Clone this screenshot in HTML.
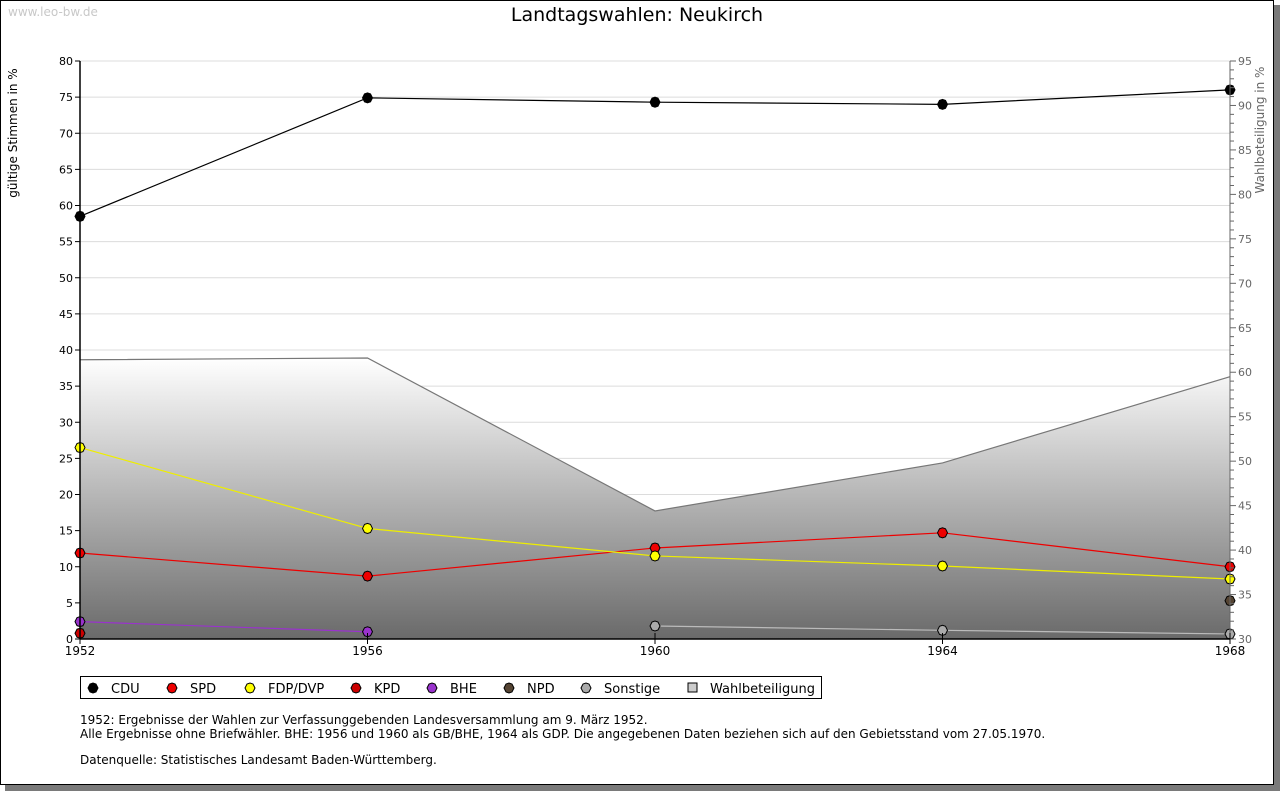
<!DOCTYPE html>
<html><head><meta charset="utf-8"><style>
html,body{margin:0;padding:0;background:#fff;}
svg text{font-family:"DejaVu Sans","Liberation Sans",sans-serif;}
</style></head><body>
<svg id="chart" width="1280" height="791" viewBox="0 0 1280 791" xmlns="http://www.w3.org/2000/svg">
<defs>
<linearGradient id="wg" x1="0" y1="0" x2="0" y2="1"><stop offset="0" stop-color="#ffffff"/><stop offset="1" stop-color="#6a6a6a"/></linearGradient>
</defs>
<rect x="5" y="5" width="1275" height="786" fill="#7a7a7a"/>
<rect x="0.5" y="0.5" width="1273" height="784" fill="#fff" stroke="#000"/>
<text x="8" y="16" font-size="12" fill="#c8c8c8">www.leo-bw.de</text>
<text x="637" y="21" font-size="19" text-anchor="middle" fill="#000">Landtagswahlen: Neukirch</text>
<text transform="translate(17,133) rotate(-90)" font-size="12" text-anchor="middle">gültige Stimmen in %</text>
<text transform="translate(1264,130) rotate(-90)" font-size="12" text-anchor="middle" fill="#666">Wahlbeteiligung in %</text>
<g id="grid"></g>
<g id="area"></g>
<g id="lines"></g>
<g id="axes"></g>
<g id="legend"></g>
<text x="80" y="724" font-size="12">1952: Ergebnisse der Wahlen zur Verfassunggebenden Landesversammlung am 9. März 1952.</text>
<text x="80" y="738" font-size="12">Alle Ergebnisse ohne Briefwähler. BHE: 1956 und 1960 als GB/BHE, 1964 als GDP. Die angegebenen Daten beziehen sich auf den Gebietsstand vom 27.05.1970.</text>
<text x="80" y="764" font-size="12">Datenquelle: Statistisches Landesamt Baden-Württemberg.</text>
</svg>
<script>
const years = [1952, 1956, 1960, 1964, 1968];
const cdu = [58.5, 74.9, 74.3, 74.0, 76.0];
const spd = [11.9, 8.7, 12.6, 14.7, 10.0];
const fdp = [26.5, 15.3, 11.5, 10.1, 8.3];
const kpd = [0.8, null, null, null, null];
const bhe = [2.4, 1.0, null, null, null];
const npd = [null, null, null, null, 5.3];
const sonstige = [null, null, 1.8, 1.2, 0.7];
const turnout = [61.4, 61.6, 44.4, 49.8, 59.5];
const leftTicks = [0,5,10,15,20,25,30,35,40,45,50,55,60,65,70,75,80];
const rightTicks = [30,35,40,45,50,55,60,65,70,75,80,85,90,95];

const NS = "http://www.w3.org/2000/svg";
const X0=80, X1=1230, YB=639, YT=61;
const xs = y => X0 + (y-1952)/(1968-1952)*(X1-X0);
const yl = v => YB - v/80*(YB-YT);
const yr = v => YB - (v-30)/65*(YB-YT);
function mk(tag, attrs, parent){const e=document.createElementNS(NS,tag);for(const k in attrs)e.setAttribute(k,attrs[k]);parent.appendChild(e);return e;}
const grid=document.getElementById('grid'), area=document.getElementById('area'), lines=document.getElementById('lines'), axes=document.getElementById('axes'), legend=document.getElementById('legend');

leftTicks.forEach(t=>{
  const g=mk('line',{x1:X0,x2:X1,y1:yl(t),y2:yl(t),stroke:'#dcdcdc'},grid);
  
  
  const tk=mk('line',{x1:X0-5,x2:X0,y1:yl(t),y2:yl(t),stroke:'#000'},axes);
  
  
  const tx=mk('text',{x:X0-7,y:yl(t)+4,'font-size':11,'text-anchor':'end'},axes);
  tx.textContent=t;
  
  
});
for(let v=30;v<=95;v++){
  const tk=mk('line',{x1:X1,x2:X1+(v%5===0?6:4),y1:yr(v),y2:yr(v),stroke:'#666'},axes);
  
  
}
rightTicks.forEach(t=>{
  const tx=mk('text',{x:X1+8,y:yr(t)+4,'font-size':11,fill:'#666'},axes);
  tx.textContent=t;
  
  
});
let d='M'+xs(years[0])+','+YB;
years.forEach((y,i)=>{d+=' L'+xs(y)+','+yr(turnout[i]);});
d+=' L'+xs(years[years.length-1])+','+YB+' Z';
const ar=mk('path',{d:d,fill:'url(#wg)'},area);


const al=mk('polyline',{points:years.map((y,i)=>xs(y)+','+yr(turnout[i])).join(' '),fill:'none',stroke:'#777','stroke-width':1.2},area);


const ax1=mk('line',{x1:X0,x2:X0,y1:YT,y2:YB,stroke:'#000','stroke-width':1.5},axes);


const ax2=mk('line',{x1:X1,x2:X1,y1:YT,y2:YB,stroke:'#666'},axes);


const ax3=mk('line',{x1:X0,x2:X1,y1:YB,y2:YB,stroke:'#000','stroke-width':1.5},axes);


years.forEach(y=>{
  const tk=mk('line',{x1:xs(y),x2:xs(y),y1:YB-6,y2:YB+5,stroke:'#000'},axes);
  
  
  const tx=mk('text',{x:xs(y),y:YB+16,'font-size':12,'text-anchor':'middle'},axes);
  tx.textContent=y;
  
  
});
const series=[
  ['cdu',cdu,'#000','#000'],['spd',spd,'#e00','#e00'],['fdp',fdp,'#ee0','#ff0'],
  ['kpd',kpd,'#b00','#c00'],['bhe',bhe,'#93c','#93c'],['npd',npd,'#543','#543'],['sonstige',sonstige,'#bbb','#aaa']
];
function diamond(cx,cy,fill,parent){
  return mk('path',{d:`M${cx-5},${cy} L${cx-3},${cy-4} L${cx},${cy-5} L${cx+3},${cy-4} L${cx+5},${cy} L${cx+3},${cy+4} L${cx},${cy+5} L${cx-3},${cy+4} Z`,fill:fill,stroke:'#000','stroke-width':1},parent);
}
series.forEach(([name,vals,lc,fc])=>{
  const pts=[];vals.forEach((v,i)=>{if(v!==null)pts.push(xs(years[i])+','+yl(v));});
  if(pts.length>1){
    const pl=mk('polyline',{points:pts.join(' '),fill:'none',stroke:lc,'stroke-width':1.2},lines);
    
    
  }
  vals.forEach((v,i)=>{ if(v===null)return;
    const m=diamond(xs(years[i]),yl(v),fc,lines);
    
    
  });
});
const lb=mk('rect',{x:80.5,y:676.5,width:741,height:22,fill:'#fff',stroke:'#000'},legend);


const leg=[['CDU','#000',93],['SPD','#e00',172],['FDP/DVP','#ff0',250],['KPD','#c00',356],['BHE','#93c',432],['NPD','#543',509],['Sonstige','#aaa',586]];
leg.forEach(([lab,c,x])=>{
  const m=diamond(x,688,c,legend);
  
  
  const t=mk('text',{x:x+18,y:693,'font-size':13},legend);
  t.textContent=lab;
  
  
});
const sq=mk('rect',{x:688,y:683,width:9,height:9,fill:'#ccc',stroke:'#000'},legend);


const wt=mk('text',{x:710,y:693,'font-size':13},legend);
wt.textContent='Wahlbeteiligung';


</script>
</body></html>
